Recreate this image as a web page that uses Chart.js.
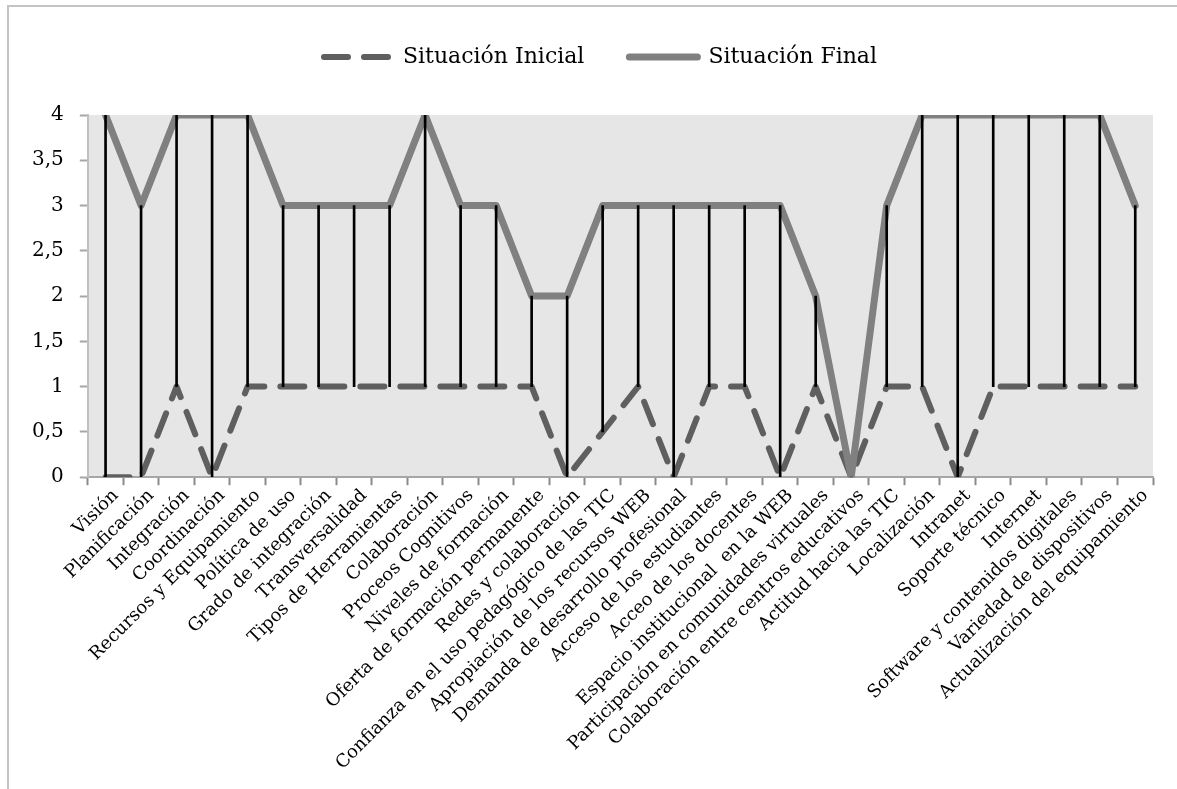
<!DOCTYPE html>
<html>
<head>
<meta charset="utf-8">
<script src="https://cdn.jsdelivr.net/npm/chart.js@4"></script>
<style>
    html, body { margin: 0; padding: 0; background: #fff; overflow: hidden; }
    #frame {
        position: absolute; left: 7px; top: 5px; width: 1300px; height: 900px;
        border-top: 2px solid #c4c4c4; border-left: 2px solid #c4c4c4;
    }
    #chart { position: absolute; left: 9px; top: 1px; }
</style>
</head>
<body>
<div id="frame"></div>
<canvas id="chart" width="1183" height="788"></canvas>
<script>
// chart data
const categorias = [
    "Visión", "Planificación", "Integración", "Coordinación", "Recursos y Equipamiento",
    "Política de uso", "Grado de integración", "Transversalidad", "Tipos de Herramientas",
    "Colaboración", "Proceos Cognitivos", "Niveles de formación", "Oferta de formación permanente",
    "Redes y colaboración", "Confianza en el uso pedagógico de las TIC", "Apropiación de los recursos WEB",
    "Demanda de desarrollo profesional", "Acceso de los estudiantes", "Acceo de los docentes",
    "Espacio institucional  en la WEB", "Participación en comunidades virtuales",
    "Colaboración entre centros educativos", "Actitud hacia las TIC", "Localización", "Intranet",
    "Soporte técnico", "Internet", "Software y contenidos digitales", "Variedad de dispositivos",
    "Actualización del equipamiento"
];
const situacionInicial = [0, 0, 1, 0, 1, 1, 1, 1, 1, 1, 1, 1, 1, 0, 0.5, 1, 0, 1, 1, 0, 1, 0, 1, 1, 0, 1, 1, 1, 1, 1];
const situacionFinal   = [4, 3, 4, 4, 4, 3, 3, 3, 3, 4, 3, 3, 2, 2, 3, 3, 3, 3, 3, 3, 2, 0, 3, 4, 4, 4, 4, 4, 4, 3];
const yTicks = [0, 0.5, 1, 1.5, 2, 2.5, 3, 3.5, 4];

// high-low lines between both series
const rangos = situacionInicial.map((v, i) => [v, situacionFinal[i]]);

const fuente = "'DejaVu Serif', serif";

// gray plot background
const fondoPlot = {
    id: 'fondoPlot',
    beforeDraw(chart) {
        const { ctx, chartArea: a } = chart;
        ctx.save();
        ctx.fillStyle = '#e6e6e6';
        ctx.fillRect(a.left, a.top, a.right - a.left, a.bottom - a.top);
        ctx.restore();
    }
};

// extra space under the legend, and legend nudged to the right
const espacioLeyenda = {
    id: 'espacioLeyenda',
    beforeInit(chart) {
        const fitOriginal = chart.legend.fit;
        chart.legend.fit = function () {
            fitOriginal.bind(chart.legend)();
            this.height += 37;
        };
    },
    afterLayout(chart) {
        chart.legend.left += 16;
        chart.legend.right += 16;
    }
};

const ctx = document.getElementById('chart').getContext('2d');
const chart = new Chart(ctx, {
    data: {
        labels: categorias,
        datasets: [
            {
                type: 'line',
                label: 'Situación Inicial',
                data: situacionInicial,
                borderColor: '#5f5f5f',
                borderWidth: 6,
                borderDash: [24, 16],
                borderCapStyle: 'round',
                borderJoinStyle: 'round',
                pointRadius: 0,
                tension: 0,
                order: 2
            },
            {
                type: 'line',
                label: 'Situación Final',
                data: situacionFinal,
                borderColor: '#808080',
                borderWidth: 7,
                borderCapStyle: 'round',
                borderJoinStyle: 'round',
                pointRadius: 0,
                tension: 0,
                order: 1
            },
            {
                type: 'bar',
                label: 'rango',
                data: rangos,
                backgroundColor: '#000',
                barThickness: 2,
                order: 0
            }
        ]
    },
    options: {
        responsive: false,
        animation: false,
        layout: {
            padding: { top: 0, left: 7, right: 39, bottom: 15 }
        },
        plugins: {
            tooltip: { enabled: false },
            legend: {
                position: 'top',
                labels: {
                    usePointStyle: true,
                    pointStyleWidth: 68,
                    padding: 45,
                    color: '#000',
                    font: { family: fuente, size: 22 },
                    generateLabels(chart) {
                        return [0, 1].map(i => {
                            const ds = chart.data.datasets[i];
                            return {
                                text: ds.label,
                                fillStyle: ds.borderColor,
                                strokeStyle: ds.borderColor,
                                lineWidth: ds.borderWidth,
                                lineDash: ds.borderDash || [],
                                lineCap: 'round',
                                pointStyle: 'line',
                                hidden: false,
                                datasetIndex: i,
                                fontColor: '#000'
                            };
                        });
                    }
                }
            }
        },
        scales: {
            x: {
                offset: true,
                grid: {
                    offset: true,
                    drawOnChartArea: false,
                    drawTicks: true,
                    tickLength: 8,
                    tickColor: '#8a8a8a',
                    tickWidth: 2
                },
                border: { color: '#a6a6a6', width: 2 },
                ticks: {
                    autoSkip: false,
                    minRotation: 45,
                    maxRotation: 45,
                    color: '#000',
                    padding: 0,
                    labelOffset: 10,
                    font: { family: fuente, size: 18 }
                }
            },
            y: {
                min: 0,
                max: 4,
                afterBuildTicks(axis) {
                    axis.ticks = yTicks.map(v => ({ value: v }));
                },
                grid: {
                    drawOnChartArea: false,
                    drawTicks: true,
                    tickLength: 8,
                    tickColor: '#a6a6a6',
                    tickWidth: 2
                },
                border: { color: '#c0c0c0', width: 2 },
                ticks: {
                    color: '#000',
                    padding: 16,
                    font: { family: fuente, size: 20 },
                    callback: v => String(v).replace('.', ',')
                }
            }
        }
    },
    plugins: [fondoPlot, espacioLeyenda]
});
</script>
</body>
</html>
